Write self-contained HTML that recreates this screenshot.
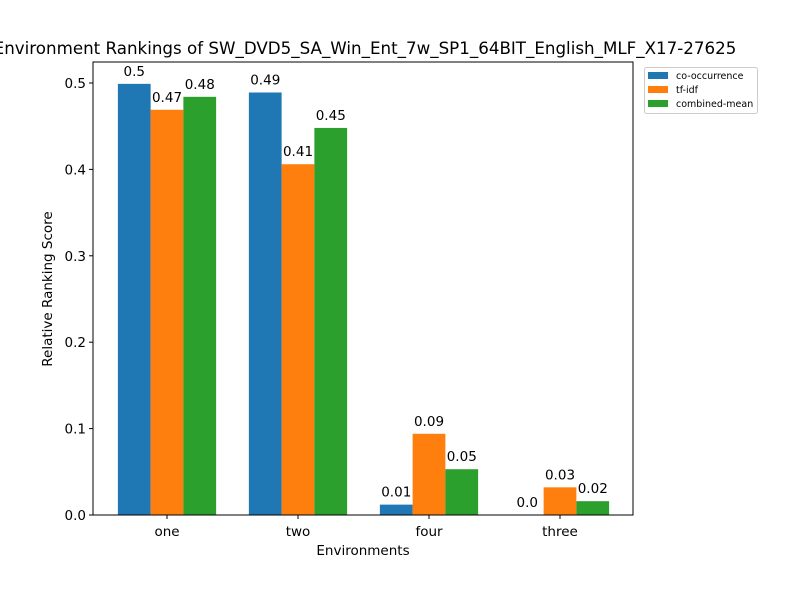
<!DOCTYPE html>
<html><head><meta charset="utf-8"><style>
body{margin:0;background:#fff}
svg{display:block;font-family:"DejaVu Sans","Liberation Sans",sans-serif}
</style></head><body>
<svg id="chart" width="800" height="600">
<text x="365" y="54" text-anchor="middle" font-size="16.7">Environment Rankings of SW_DVD5_SA_Win_Ent_7w_SP1_64BIT_English_MLF_X17-27625</text>
<g id="bars"></g>
<g id="axes"></g>
<text x="363" y="555" text-anchor="middle" font-size="13.5">Environments</text>
<text transform="translate(52,289) rotate(-90)" text-anchor="middle" font-size="13.5">Relative Ranking Score</text>
<g>
<rect x="644.5" y="67.5" width="113" height="46" fill="#fff" stroke="#ccc" rx="2"/>
<rect x="648" y="72" width="20" height="7" fill="#1f77b4"/>
<text x="676" y="79" font-size="9.5">co-occurrence</text>
<rect x="648" y="86" width="20" height="7" fill="#ff7f0e"/>
<text x="676" y="93" font-size="9.5">tf-idf</text>
<rect x="648" y="100" width="20" height="7" fill="#2ca02c"/>
<text x="676" y="107" font-size="9.5">combined-mean</text>
</g>
</svg>
<script>
const categories=["one","two","four","three"];
const coOccurrence=[0.499,0.489,0.012,0.0];
const tfIdf=[0.469,0.406,0.094,0.032];
const combinedMean=[0.484,0.448,0.053,0.016];
const valueLabels=[["0.5","0.49","0.01","0.0"],["0.47","0.41","0.09","0.03"],["0.48","0.45","0.05","0.02"]];
const yTicks=[0,0.1,0.2,0.3,0.4,0.5];
const NS="http://www.w3.org/2000/svg";
const L=93,R=633,T=62,B=515,yMax=0.5243;
const step=131,first=167,bw=32.75;
const xs=i=>first+i*step;
const ys=v=>B-(v/yMax)*(B-T);
const series=[coOccurrence,tfIdf,combinedMean];
const colors=["#1f77b4","#ff7f0e","#2ca02c"];
const names=["co-occurrence","tf-idf","combined-mean"];
const gb=document.getElementById('bars'),ga=document.getElementById('axes');
function mk(tag,attrs,parent){const e=document.createElementNS(NS,tag);for(const k in attrs)e.setAttribute(k,attrs[k]);parent.appendChild(e);return e;}
series.forEach((s,si)=>{s.forEach((v,i)=>{
 const x=xs(i)+(si-1)*bw-bw/2;
 const r=mk('rect',{x:x,y:ys(v),width:bw,height:B-ys(v),fill:colors[si]},gb);
 
 
 const t=mk('text',{x:x+bw/2,y:ys(v)-8,'text-anchor':'middle','font-size':'13.5'},gb);
 t.textContent=valueLabels[si][i];
 
 
});});
const frame=mk('rect',{x:L,y:T,width:R-L,height:B-T,fill:'none',stroke:'#000','stroke-width':1},ga);


yTicks.forEach(v=>{
 mk('line',{x1:L-4,x2:L,y1:ys(v),y2:ys(v),stroke:'#000'},ga);
 const t=mk('text',{x:L-7,y:ys(v)+5,'text-anchor':'end','font-size':'13.5'},ga);
 t.textContent=v.toFixed(1);
 
 
});
categories.forEach((c,i)=>{
 mk('line',{x1:xs(i),x2:xs(i),y1:B,y2:B+4,stroke:'#000'},ga);
 const t=mk('text',{x:xs(i),y:B+21,'text-anchor':'middle','font-size':'13.5'},ga);
 t.textContent=c;
 
 
});
</script>
</body></html>
